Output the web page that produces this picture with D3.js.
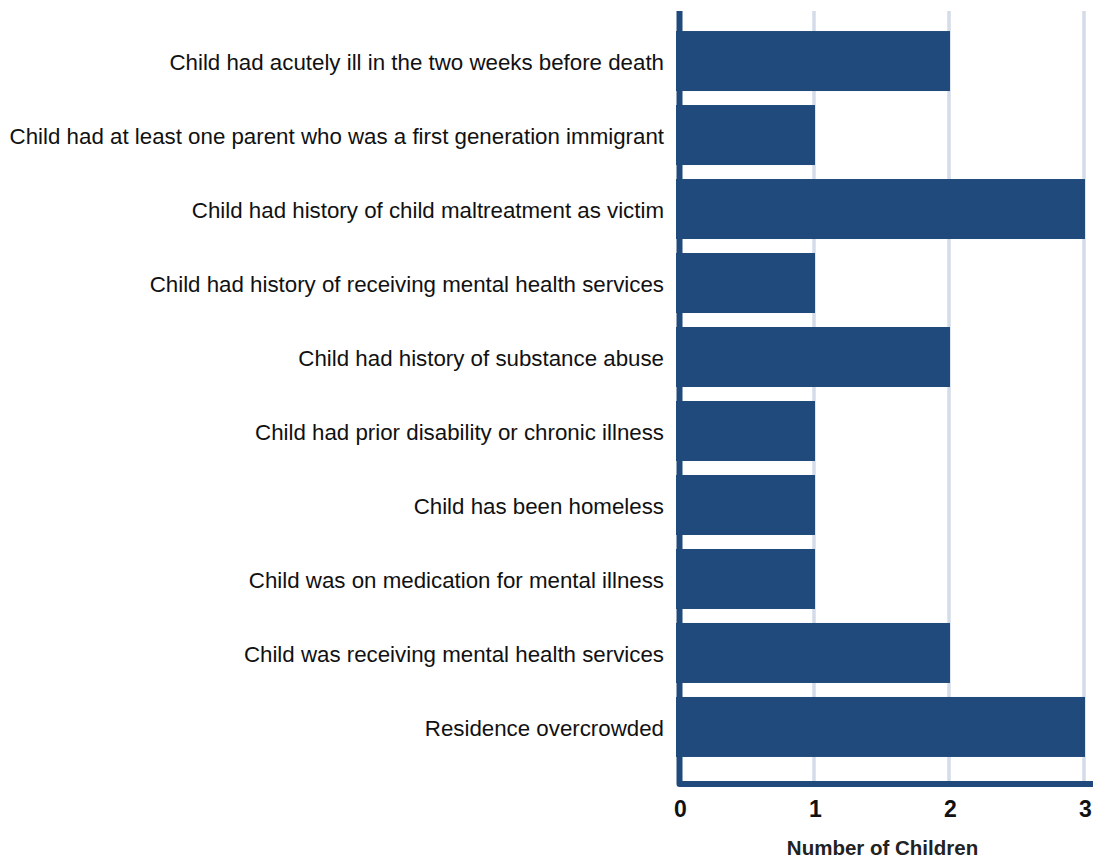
<!DOCTYPE html>
<html>
<head>
<meta charset="utf-8">
<script src="https://cdn.jsdelivr.net/npm/d3@7"></script>
<style>
  html, body { margin: 0; padding: 0; background: #ffffff; }
  svg { display: block; }
</style>
</head>
<body>
<svg id="chart" width="1093" height="859"></svg>
<script>
const categories = [
  "Child had acutely ill in the two weeks before death",
  "Child had at least one parent who was a first generation immigrant",
  "Child had history of child maltreatment as victim",
  "Child had history of receiving mental health services",
  "Child had history of substance abuse",
  "Child had prior disability or chronic illness",
  "Child has been homeless",
  "Child was on medication for mental illness",
  "Child was receiving mental health services",
  "Residence overcrowded"
];
const values = [2, 1, 3, 1, 2, 1, 1, 1, 2, 3];
const tickValues = [0, 1, 2, 3];
const axisTitle = "Number of Children";

const svg = d3.select("#chart");
const barColor = "#1f4a7b";
const gridColor = "#d3dce8";

const x = d3.scaleLinear().domain([0, 3]).range([680, 1085]);
const y = d3.scaleBand().domain(categories).range([24, 764])
  .paddingInner(14 / 74).paddingOuter(0.095);

const plotTop = 11, axisY = 784;

// gridlines
svg.append("g").selectAll("line")
  .data(tickValues.filter(d => d > 0))
  .join("line")
  .attr("x1", d => x(d) - 1).attr("x2", d => x(d) - 1)
  .attr("y1", plotTop).attr("y2", axisY)
  .attr("stroke", gridColor).attr("stroke-width", 3.5);

// axis frame (left + bottom)
svg.append("path")
  .attr("d", `M${x(0) - 0.5},${plotTop} L${x(0) - 0.5},${axisY} L1100,${axisY}`)
  .attr("fill", "none").attr("stroke", barColor)
  .attr("stroke-width", 6).attr("stroke-linejoin", "round");

// bars
svg.append("g").selectAll("rect")
  .data(categories)
  .join("rect")
  .attr("x", x(0) - 4)
  .attr("y", d => y(d))
  .attr("width", (d, i) => x(values[i]) - x(0) + 4)
  .attr("height", y.bandwidth())
  .attr("fill", barColor);

// category labels
svg.append("g").selectAll("text")
  .data(categories)
  .join("text")
  .attr("x", 664)
  .attr("y", d => y(d) + y.bandwidth() / 2)
  .attr("dy", "0.42em")
  .attr("text-anchor", "end")
  .attr("font-family", "'Liberation Sans', Arial, sans-serif")
  .attr("font-size", 22.3)
  .attr("fill", "#111")
  .text(d => d);

// x axis tick labels
const xAxis = d3.axisBottom(x).tickValues(tickValues).tickFormat(d3.format("d")).tickSize(0).tickPadding(0);
const gx = svg.append("g").attr("transform", `translate(0, 801)`).call(xAxis);
gx.select(".domain").remove();
gx.selectAll("text")
  .attr("font-family", "'Liberation Sans', Arial, sans-serif")
  .attr("font-weight", "bold")
  .attr("font-size", 23)
  .attr("fill", "#111")
  .attr("dy", "0.71em");

// axis title
svg.append("text")
  .attr("x", (x(0) + x(3)) / 2)
  .attr("y", 855)
  .attr("text-anchor", "middle")
  .attr("font-family", "'Liberation Sans', Arial, sans-serif")
  .attr("font-weight", "bold")
  .attr("font-size", 20.5)
  .attr("fill", "#222")
  .text(axisTitle);
</script>
</body>
</html>
